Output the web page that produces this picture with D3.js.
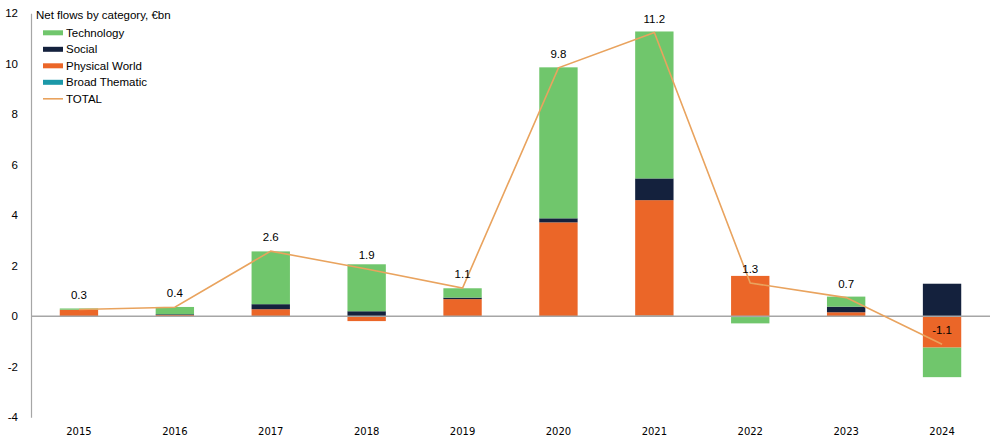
<!DOCTYPE html>
<html>
<head>
<meta charset="utf-8">
<script src="https://cdn.jsdelivr.net/npm/d3@7"></script>
<style>
    body { margin: 0; background: #fff; }
    text { font-family: 'Liberation Sans', Arial, sans-serif; fill: #000; }
    .xAxis text { font-family: 'DejaVu Sans', Verdana, sans-serif; font-size: 10px; }
    .yAxis text { font-size: 11.5px; }
    .label { font-size: 11.5px; }
    .legend text { font-size: 11.5px; }
</style>
</head>
<body>
<div id="chart"></div>
<script>
const years = ['2015', '2016', '2017', '2018', '2019', '2020', '2021', '2022', '2023', '2024'];
const broadThematic = [0, 0, 0, 0, 0, 0, 0.03, -0.03, 0, 0];
const physicalWorld = [0.26, 0.05, 0.28, -0.19, 0.68, 3.72, 4.57, 1.60, 0.16, -1.24];
const social = [-0.02, 0.03, 0.20, 0.20, 0.06, 0.16, 0.86, 0, 0.22, 1.29];
const technology = [0.05, 0.29, 2.09, 1.86, 0.37, 5.98, 5.82, -0.25, 0.40, -1.17];
const total = [0.27, 0.36, 2.58, 1.87, 1.12, 9.84, 11.24, 1.32, 0.74, -1.11];
const yTicks = [-4, -2, 0, 2, 4, 6, 8, 10, 12];

const keys = ['Broad Thematic', 'Physical World', 'Social', 'Technology'];
const colors = {
    'Technology': '#70c66c',
    'Social': '#14213d',
    'Physical World': '#eb6628',
    'Broad Thematic': '#1b98a8'
};
const lineColor = '#e9a35e';

// plain hyphen for negatives, like the original
const fmt = d => d3.format('.1f')(d).replace('\u2212', '-');

const rows = years.map((year, i) => ({
    year,
    'Broad Thematic': broadThematic[i],
    'Physical World': physicalWorld[i],
    'Social': social[i],
    'Technology': technology[i],
    total: total[i]
}));

const outerWidth = 1001;
const outerHeight = 448;
const margin = { top: 13.3, left: 31, bottom: 30.7, right: 11 };
const innerWidth = outerWidth - margin.left - margin.right;
const innerHeight = outerHeight - margin.top - margin.bottom;

const xScale = d3.scaleBand()
    .domain(years)
    .range([0, innerWidth])
    .paddingInner(0.6)
    .paddingOuter(0.3);

const yScale = d3.scaleLinear()
    .domain([-4, 12])
    .range([innerHeight, 0]);

const stack = d3.stack()
    .keys(keys)
    .offset(d3.stackOffsetDiverging);
const series = stack(rows);

const svg = d3.select('#chart')
    .append('svg')
        .attr('width', outerWidth)
        .attr('height', outerHeight)
    .append('g')
        .attr('transform', `translate(${margin.left},${margin.top})`);

// bars
svg.selectAll('.series')
    .data(series)
    .join('g')
        .classed('series', true)
        .attr('fill', d => colors[d.key])
    .selectAll('rect')
    .data(d => d)
    .join('rect')
        .attr('x', d => xScale(d.data.year))
        .attr('width', xScale.bandwidth())
        .attr('y', d => yScale(Math.max(d[0], d[1])))
        .attr('height', d => Math.abs(yScale(d[0]) - yScale(d[1])));

// y axis
const yAxis = d3.axisLeft(yScale)
    .tickValues(yTicks)
    .tickFormat(d => String(d))
    .tickSize(0)
    .tickPadding(13);

svg.append('g')
    .classed('yAxis', true)
    .call(yAxis)
    .call(g => g.select('.domain').attr('stroke', '#a6a6a6').attr('stroke-width', 1.2));

// zero line
svg.append('line')
    .attr('x1', 0)
    .attr('x2', innerWidth)
    .attr('y1', yScale(0))
    .attr('y2', yScale(0))
    .attr('stroke', '#a6a6a6')
    .attr('stroke-width', 1.5);

// x axis labels
const xAxis = d3.axisBottom(xScale)
    .tickSize(0)
    .tickPadding(11);

svg.append('g')
    .classed('xAxis', true)
    .attr('transform', `translate(0, ${innerHeight})`)
    .call(xAxis)
    .call(g => g.select('.domain').remove());

// total line
const lineGenerator = d3.line()
    .x(d => xScale(d.year) + xScale.bandwidth() / 2)
    .y(d => yScale(d.total));

svg.append('path')
    .attr('d', lineGenerator(rows))
    .attr('fill', 'none')
    .attr('stroke', lineColor)
    .attr('stroke-width', 1.6);

svg.selectAll('.label')
    .data(rows)
    .join('text')
        .classed('label', true)
        .attr('x', d => xScale(d.year) + xScale.bandwidth() / 2)
        .attr('y', d => yScale(d.total) - 10)
        .attr('text-anchor', 'middle')
        .text(d => fmt(d.total));

// legend
const legend = svg.append('g')
    .classed('legend', true);

legend.append('text')
    .attr('x', 5)
    .attr('y', 6)
    .text('Net flows by category, €bn');

const legendItems = ['Technology', 'Social', 'Physical World', 'Broad Thematic', 'TOTAL'];
const item = legend.selectAll('.item')
    .data(legendItems)
    .join('g')
        .classed('item', true)
        .attr('transform', (d, i) => `translate(12, ${19.5 + i * 16.5})`);

item.append('rect')
    .attr('width', 20)
    .attr('height', d => d === 'TOTAL' ? 1.6 : 5)
    .attr('y', d => d === 'TOTAL' ? -0.8 : -2.5)
    .attr('fill', d => d === 'TOTAL' ? lineColor : colors[d]);

item.append('text')
    .attr('x', 23)
    .attr('y', 4)
    .text(d => d);
</script>
</body>
</html>
